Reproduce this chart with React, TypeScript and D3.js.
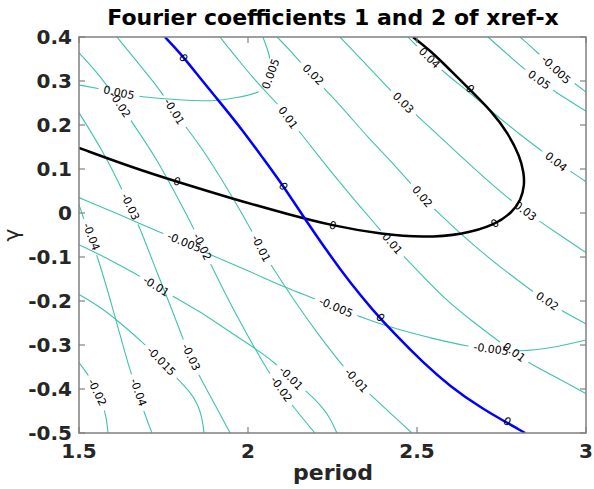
import React from 'react';
import * as d3 from 'd3';

type Pt = [number, number];

const W = 594;
const H = 489;

const periodTicks = [1.5, 2, 2.5, 3];
const gammaTicks = [0.4, 0.3, 0.2, 0.1, 0, -0.1, -0.2, -0.3, -0.4, -0.5];

// ---- Fourier coefficient 1 contours (steep family) ----
const c1Minus004: Pt[] = [[1.5, 0.019], [1.527, -0.042], [1.556, -0.101], [1.601, -0.219], [1.651, -0.36], [1.675, -0.412], [1.695, -0.458], [1.716, -0.5]];
const c1Minus004Labels: Pt[] = [[1.536, -0.054], [1.675, -0.408]];

const c1Minus003: Pt[] = [[1.5, 0.228], [1.568, 0.144], [1.621, 0.064], [1.651, 0.014], [1.68, -0.033], [1.725, -0.124], [1.775, -0.219], [1.805, -0.281], [1.828, -0.326], [1.858, -0.374], [1.902, -0.435], [1.947, -0.5]];
const c1Minus003Labels: Pt[] = [[1.651, 0.014], [1.831, -0.328]];

const c1Minus002: Pt[] = [[1.5, 0.364], [1.562, 0.313], [1.621, 0.248], [1.68, 0.18], [1.731, 0.121], [1.784, 0.046], [1.834, -0.027], [1.864, -0.075], [1.893, -0.122], [1.956, -0.219], [2.006, -0.288], [2.056, -0.356], [2.095, -0.399], [2.133, -0.44], [2.198, -0.5]];
const c1Minus002Labels: Pt[] = [[1.621, 0.246], [1.864, -0.077], [2.098, -0.401]];

const c1Minus001: Pt[] = [[1.612, 0.4], [1.68, 0.336], [1.74, 0.28], [1.781, 0.23], [1.82, 0.192], [1.867, 0.144], [1.941, 0.053], [2.006, -0.033], [2.038, -0.081], [2.071, -0.122], [2.154, -0.219], [2.213, -0.281], [2.272, -0.34], [2.32, -0.381], [2.367, -0.417], [2.485, -0.5]];
const c1Minus001Labels: Pt[] = [[1.781, 0.23], [2.038, -0.081], [2.32, -0.381]];

const c1Zero: Pt[] = [[1.754, 0.4], [1.799, 0.364], [1.858, 0.307], [1.923, 0.246], [1.985, 0.187], [2.044, 0.125], [2.104, 0.062], [2.154, 0.003], [2.243, -0.097], [2.302, -0.158], [2.367, -0.219], [2.435, -0.276], [2.518, -0.34], [2.598, -0.394], [2.686, -0.442], [2.82, -0.5]];
const c1ZeroLabels: Pt[] = [[1.808, 0.352], [2.104, 0.06], [2.391, -0.238], [2.766, -0.474]];

const c1Plus001: Pt[] = [[1.917, 0.4], [1.976, 0.343], [2.041, 0.284], [2.086, 0.25], [2.118, 0.216], [2.154, 0.184], [2.213, 0.125], [2.302, 0.041], [2.391, -0.038], [2.426, -0.07], [2.464, -0.101], [2.583, -0.197], [2.657, -0.242], [2.746, -0.294], [2.787, -0.317], [2.828, -0.34], [2.923, -0.378], [3.003, -0.412]];
const c1Plus001Labels: Pt[] = [[2.118, 0.216], [2.426, -0.07], [2.787, -0.317]];

const c1Plus002: Pt[] = [[2.086, 0.4], [2.124, 0.37], [2.154, 0.343], [2.192, 0.314], [2.228, 0.28], [2.272, 0.246], [2.361, 0.166], [2.42, 0.121], [2.479, 0.069], [2.515, 0.037], [2.553, 0.007], [2.686, -0.088], [2.843, -0.179], [2.885, -0.201], [2.932, -0.224], [3.003, -0.253]];
const c1Plus002Labels: Pt[] = [[2.192, 0.314], [2.515, 0.037], [2.885, -0.201]];

const c1Plus003: Pt[] = [[2.272, 0.4], [2.346, 0.341], [2.42, 0.28], [2.459, 0.25], [2.5, 0.221], [2.574, 0.169], [2.686, 0.089], [2.775, 0.03], [2.82, 0.005], [2.864, -0.02], [3.0, -0.09]];
const c1Plus003Labels: Pt[] = [[2.459, 0.25], [2.82, 0.004]];

const c1Plus004: Pt[] = [[2.473, 0.4], [2.503, 0.377], [2.536, 0.352], [2.577, 0.321], [2.657, 0.273], [2.722, 0.23], [2.805, 0.178], [2.873, 0.139], [2.911, 0.116], [2.962, 0.091], [3.0, 0.071]];
const c1Plus004Labels: Pt[] = [[2.536, 0.352], [2.911, 0.116]];

const c1Plus005: Pt[] = [[2.71, 0.4], [2.76, 0.366], [2.82, 0.325], [2.861, 0.302], [2.908, 0.275], [3.003, 0.23]];
const c1Plus005Labels: Pt[] = [[2.861, 0.302]];

// ---- Fourier coefficient 2 contours (shallow family) ----
const c2Zero: Pt[] = [[1.5, 0.148], [1.66, 0.103], [1.79, 0.071], [1.956, 0.032], [2.124, -0.004], [2.251, -0.029], [2.399, -0.049], [2.518, -0.056], [2.636, -0.049], [2.731, -0.027], [2.781, 0.001], [2.808, 0.03], [2.818, 0.064], [2.816, 0.091], [2.805, 0.128], [2.769, 0.182], [2.722, 0.23], [2.657, 0.28], [2.598, 0.325], [2.538, 0.37], [2.488, 0.4]];
const c2ZeroLabels: Pt[] = [[1.79, 0.071], [2.251, -0.029], [2.731, -0.024], [2.657, 0.282]];

const c2Plus0005: Pt[] = [[1.5, 0.291], [1.562, 0.282], [1.618, 0.273], [1.68, 0.264], [1.799, 0.257], [1.896, 0.253], [1.967, 0.262], [2.036, 0.273], [2.056, 0.291], [2.068, 0.316], [2.068, 0.343], [2.059, 0.37], [2.044, 0.4]];
const c2Plus0005Labels: Pt[] = [[1.618, 0.273], [2.068, 0.316]];

const c2Minus0005: Pt[] = [[1.5, 0.035], [1.621, -0.004], [1.749, -0.047], [1.811, -0.067], [1.888, -0.095], [2.006, -0.133], [2.118, -0.172], [2.189, -0.192], [2.26, -0.215], [2.331, -0.235], [2.411, -0.258], [2.559, -0.288], [2.651, -0.303], [2.719, -0.31], [2.805, -0.315], [2.893, -0.308], [3.003, -0.288]];
const c2Minus0005Labels: Pt[] = [[1.811, -0.067], [2.26, -0.215], [2.719, -0.31]];

const c2Minus0005Upper: Pt[] = [[2.805, 0.4], [2.855, 0.366], [2.911, 0.325], [2.973, 0.291], [3.003, 0.273]];
const c2Minus0005UpperLabels: Pt[] = [[2.911, 0.325]];

const c2Minus001: Pt[] = [[1.5, -0.072], [1.592, -0.106], [1.672, -0.14], [1.728, -0.167], [1.784, -0.192], [1.858, -0.224], [1.932, -0.263], [2.018, -0.306], [2.08, -0.34], [2.127, -0.376], [2.177, -0.408], [2.213, -0.435], [2.243, -0.465], [2.263, -0.5]];
const c2Minus001Labels: Pt[] = [[1.728, -0.167], [2.127, -0.376]];

const c2Minus0015: Pt[] = [[1.5, -0.185], [1.562, -0.213], [1.621, -0.249], [1.689, -0.294], [1.743, -0.337], [1.793, -0.378], [1.828, -0.406], [1.852, -0.435], [1.864, -0.465], [1.87, -0.5]];
const c2Minus0015Labels: Pt[] = [[1.743, -0.337]];

const c2Minus002: Pt[] = [[1.5, -0.34], [1.527, -0.367], [1.547, -0.396], [1.565, -0.424], [1.58, -0.458], [1.586, -0.5]];
const c2Minus002Labels: Pt[] = [[1.553, -0.408]];

const TEAL = '#40c2ae';

type Contour = { level: string; pts: Pt[]; labels: Pt[]; color: string; width: number; gap: boolean };

const contours: Contour[] = [
  { level: '-0.04', pts: c1Minus004, labels: c1Minus004Labels, color: TEAL, width: 1.1, gap: true },
  { level: '-0.03', pts: c1Minus003, labels: c1Minus003Labels, color: TEAL, width: 1.1, gap: true },
  { level: '-0.02', pts: c1Minus002, labels: c1Minus002Labels, color: TEAL, width: 1.1, gap: true },
  { level: '-0.01', pts: c1Minus001, labels: c1Minus001Labels, color: TEAL, width: 1.1, gap: true },
  { level: '0.01', pts: c1Plus001, labels: c1Plus001Labels, color: TEAL, width: 1.1, gap: true },
  { level: '0.02', pts: c1Plus002, labels: c1Plus002Labels, color: TEAL, width: 1.1, gap: true },
  { level: '0.03', pts: c1Plus003, labels: c1Plus003Labels, color: TEAL, width: 1.1, gap: true },
  { level: '0.04', pts: c1Plus004, labels: c1Plus004Labels, color: TEAL, width: 1.1, gap: true },
  { level: '0.05', pts: c1Plus005, labels: c1Plus005Labels, color: TEAL, width: 1.1, gap: true },
  { level: '0.005', pts: c2Plus0005, labels: c2Plus0005Labels, color: TEAL, width: 1.1, gap: true },
  { level: '-0.005', pts: c2Minus0005, labels: c2Minus0005Labels, color: TEAL, width: 1.1, gap: true },
  { level: '-0.005', pts: c2Minus0005Upper, labels: c2Minus0005UpperLabels, color: TEAL, width: 1.1, gap: true },
  { level: '-0.01', pts: c2Minus001, labels: c2Minus001Labels, color: TEAL, width: 1.1, gap: true },
  { level: '-0.015', pts: c2Minus0015, labels: c2Minus0015Labels, color: TEAL, width: 1.1, gap: true },
  { level: '-0.02', pts: c2Minus002, labels: c2Minus002Labels, color: TEAL, width: 1.1, gap: true },
  { level: '0', pts: c2Zero, labels: c2ZeroLabels, color: '#000000', width: 2.5, gap: false },
  { level: '0', pts: c1Zero, labels: c1ZeroLabels, color: '#0000ff', width: 2.5, gap: false },
];

const xScale = d3.scaleLinear().domain([1.5, 3]).range([79, 586]);
const yScale = d3.scaleLinear().domain([-0.5, 0.4]).range([433, 37]);

function textWidth(s: string, size: number) {
  let w = 0;
  for (const ch of s) {
    if (ch === '.') w += 0.318;
    else if (ch === '-') w += 0.361;
    else w += 0.636;
  }
  return w * size;
}

function angleAt(pts: [number, number][], x: number, y: number) {
  let best = Infinity;
  let ang = 0;
  for (let i = 0; i < pts.length - 1; i++) {
    const [x1, y1] = pts[i];
    const [x2, y2] = pts[i + 1];
    const dx = x2 - x1, dy = y2 - y1;
    const len2 = dx * dx + dy * dy || 1;
    let t = ((x - x1) * dx + (y - y1) * dy) / len2;
    t = Math.max(0, Math.min(1, t));
    const px = x1 + t * dx, py = y1 + t * dy;
    const d = (px - x) ** 2 + (py - y) ** 2;
    if (d < best) {
      best = d;
      ang = (Math.atan2(dy, dx) * 180) / Math.PI;
    }
  }
  if (ang > 90) ang -= 180;
  if (ang < -90) ang += 180;
  return ang;
}

export default function App() {
  const line = d3
    .line<Pt>()
    .x((d) => xScale(d[0]))
    .y((d) => yScale(d[1]))
    .curve(d3.curveBasis);

  const LABEL_SIZE = 11;
  const PAD = 5;
  const items = contours.map((c, i) => {
    const pxPts = c.pts.map((p) => [xScale(p[0]), yScale(p[1])] as [number, number]);
    const labels = c.labels.map((l) => {
      const x = xScale(l[0]);
      const y = yScale(l[1]);
      return { x, y, a: angleAt(pxPts, x, y) };
    });
    return { ...c, id: i, d: line(c.pts) || '', labels, tw: textWidth(c.level, LABEL_SIZE) };
  });

  const x0 = 79, x1 = 586, y0 = 37, y1 = 433;
  const axisColor = '#808080';
  const tickLen = 6;
  const tickText = '#262626';

  return (
    <svg
      width={W}
      height={H}
      style={{ position: 'absolute', left: 0, top: 0, background: '#fff' }}
      fontFamily="'DejaVu Sans', sans-serif"
    >
      <defs>
        <clipPath id="plotClip">
          <rect x={x0} y={y0} width={x1 - x0} height={y1 - y0} />
        </clipPath>
        {items
          .filter((c) => c.gap)
          .map((c) => (
            <mask key={c.id} id={`gap${c.id}`} maskUnits="userSpaceOnUse" x={0} y={0} width={W} height={H}>
              <rect x={0} y={0} width={W} height={H} fill="#fff" />
              {c.labels.map((l, j) => (
                <rect
                  key={j}
                  x={-c.tw / 2 - PAD}
                  y={-6.5}
                  width={c.tw + 2 * PAD}
                  height={13}
                  fill="#000"
                  transform={`translate(${l.x},${l.y}) rotate(${l.a})`}
                />
              ))}
            </mask>
          ))}
      </defs>
      <rect x={0} y={0} width={W} height={H} fill="#fff" />
      <g clipPath="url(#plotClip)">
        {items.map((c) => (
          <path
            key={c.id}
            d={c.d}
            fill="none"
            stroke={c.color}
            strokeWidth={c.width}
            mask={c.gap ? `url(#gap${c.id})` : undefined}
          />
        ))}
      </g>
      <g fontSize={LABEL_SIZE} fill="#000">
        {items.map((c) =>
          c.labels.map((l, j) => (
            <text
              key={`${c.id}-${j}`}
              transform={`translate(${l.x},${l.y}) rotate(${l.a})`}
              textAnchor="middle"
              dominantBaseline="central"
            >
              {c.level}
            </text>
          ))
        )}
      </g>
      <rect x={x0} y={y0} width={x1 - x0} height={y1 - y0} fill="none" stroke={axisColor} strokeWidth={1.5} />
      {periodTicks.map((t) => (
        <g key={`xt${t}`}>
          <line x1={xScale(t)} x2={xScale(t)} y1={y1} y2={y1 - tickLen} stroke={axisColor} strokeWidth={1.2} />
          <line x1={xScale(t)} x2={xScale(t)} y1={y0} y2={y0 + tickLen} stroke={axisColor} strokeWidth={1.2} />
          <text x={xScale(t)} y={458} textAnchor="middle" fontSize={20} fontWeight="bold" fill={tickText}>
            {String(t)}
          </text>
        </g>
      ))}
      {gammaTicks.map((t) => (
        <g key={`yt${t}`}>
          <line x1={x0} x2={x0 + tickLen} y1={yScale(t)} y2={yScale(t)} stroke={axisColor} strokeWidth={1.2} />
          <line x1={x1} x2={x1 - tickLen} y1={yScale(t)} y2={yScale(t)} stroke={axisColor} strokeWidth={1.2} />
          <text x={72} y={yScale(t)} textAnchor="end" dominantBaseline="central" fontSize={20} fontWeight="bold" fill={tickText}>
            {String(t)}
          </text>
        </g>
      ))}
      <text x={333} y={25} textAnchor="middle" fontSize={22} fontWeight="bold" fill="#000">
        Fourier coefficients 1 and 2 of xref-x
      </text>
      <text x={333} y={480} textAnchor="middle" fontSize={22} fontWeight="bold" fill={tickText}>
        period
      </text>
      <text transform="translate(19,235) rotate(-90)" textAnchor="middle" fontSize={22} fill={tickText}>
        γ
      </text>
    </svg>
  );
}
